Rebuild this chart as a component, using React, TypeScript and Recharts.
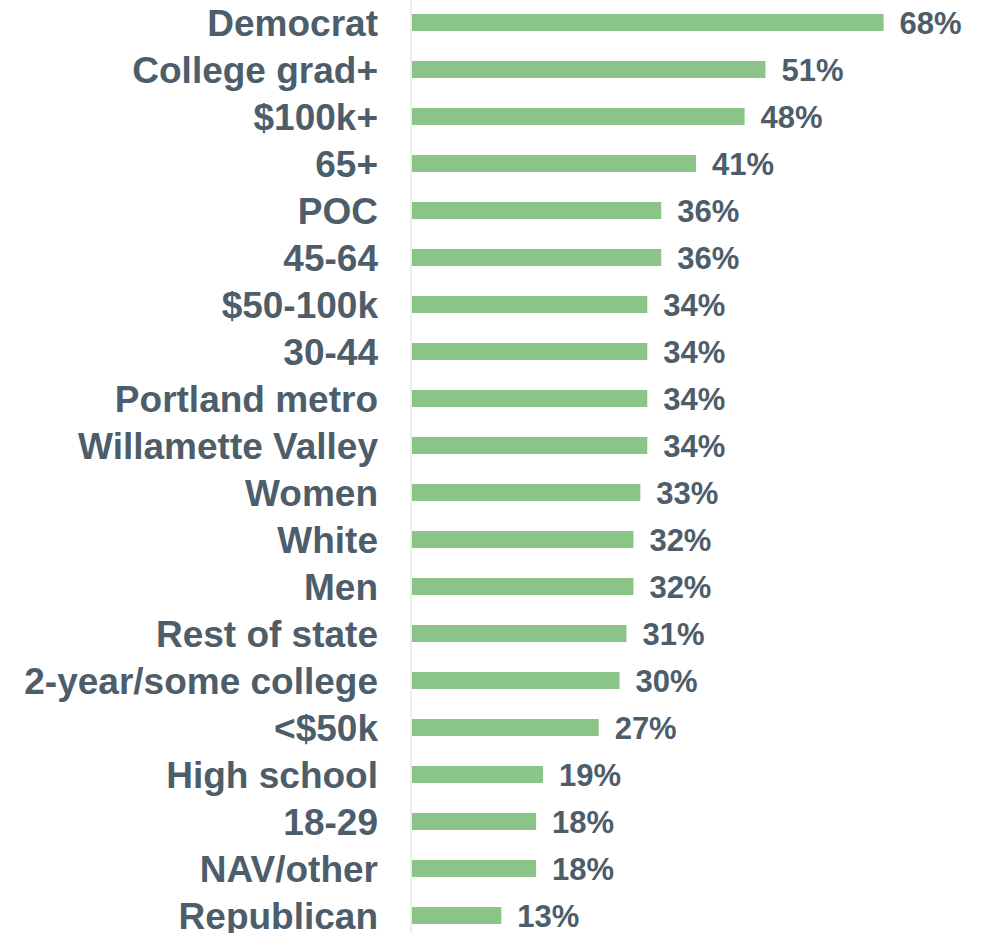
import { BarChart, Bar, XAxis, YAxis, LabelList } from 'recharts';

const categories = [
  'Democrat', 'College grad+', '$100k+', '65+', 'POC', '45-64', '$50-100k', '30-44',
  'Portland metro', 'Willamette Valley', 'Women', 'White', 'Men', 'Rest of state',
  '2-year/some college', '<$50k', 'High school', '18-29', 'NAV/other', 'Republican',
];
const shares = [68, 51, 48, 41, 36, 36, 34, 34, 34, 34, 33, 32, 32, 31, 30, 27, 19, 18, 18, 13];

const data = categories.map((name, i) => ({ name, value: shares[i] }));

const TEXT = '#4e5d6a';
const FONT = '"Liberation Sans", Arial, sans-serif';

export default function App() {
  return (
    <div style={{ position: 'absolute', left: 0, top: -1, background: '#fff' }}>
      <BarChart
        width={983}
        height={940}
        data={data}
        layout="vertical"
        margin={{ top: 0, right: 16, bottom: 0, left: 0 }}
      >
        <XAxis type="number" domain={[0, 80]} hide />
        <YAxis
          type="category"
          dataKey="name"
          width={411}
          tickSize={0}
          tickMargin={33}
          axisLine={{ stroke: '#eeeeee', strokeWidth: 2 }}
          tick={{ fontSize: 37, fontWeight: 'bold', fill: TEXT, fontFamily: FONT }}
          interval={0}
        />
        <Bar dataKey="value" fill="#8ac487" barSize={17} isAnimationActive={false}>
          <LabelList
            dataKey="value"
            position="right"
            offset={16}
            formatter={(v: number) => `${v}%`}
            style={{ fontSize: 31, fontWeight: 'bold', fill: TEXT, fontFamily: FONT }}
          />
        </Bar>
      </BarChart>
    </div>
  );
}
